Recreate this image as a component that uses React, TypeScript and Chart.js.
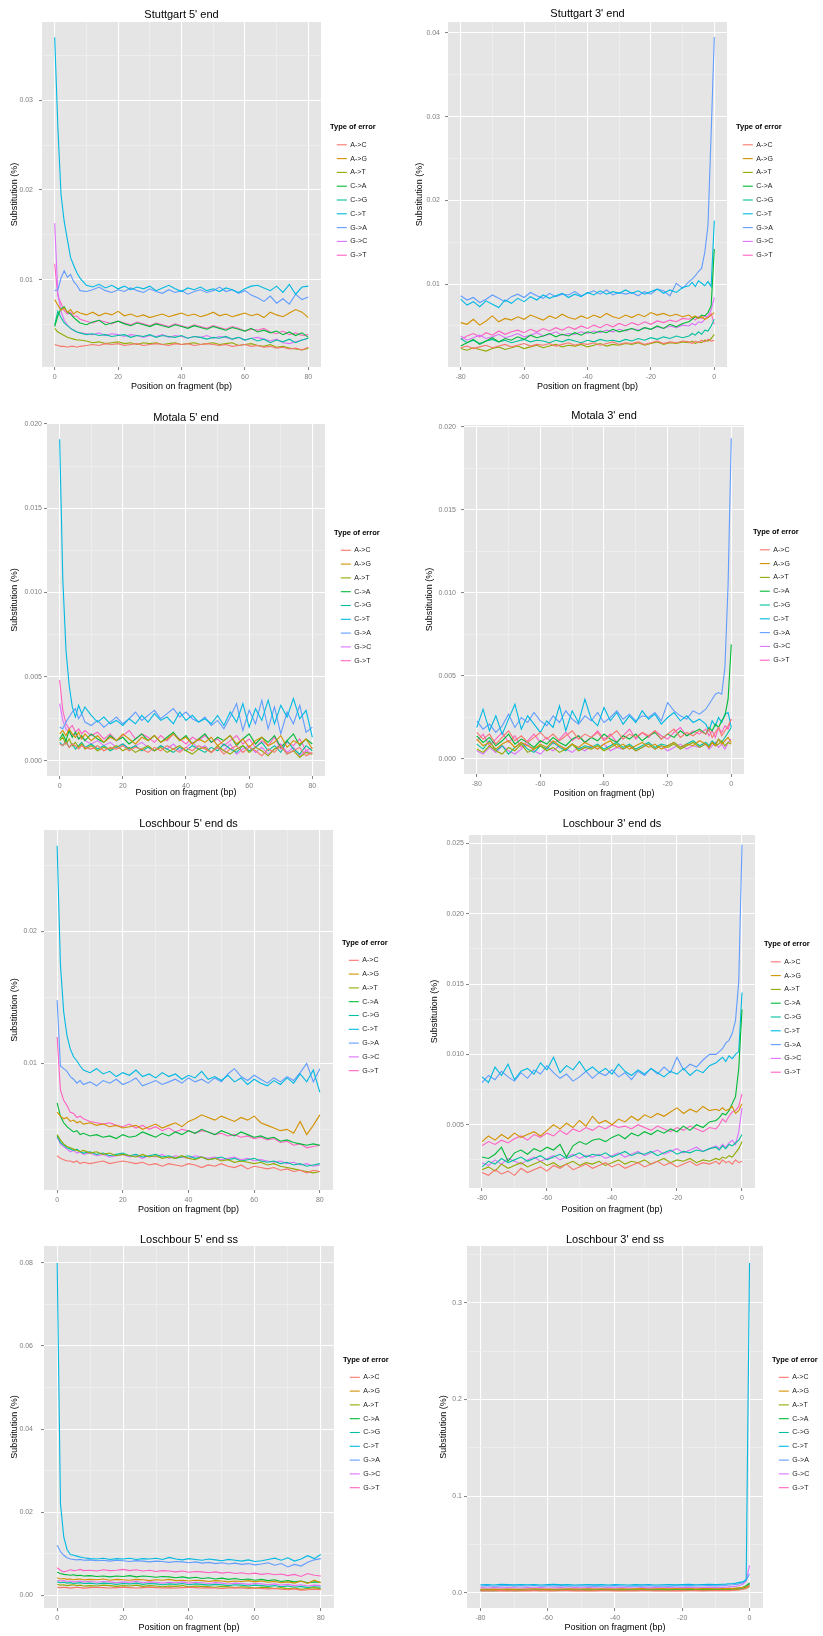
import React, { useEffect, useRef } from "react";
import { Chart, registerables } from "chart.js";

Chart.register(...registerables);

const FONT = "'Liberation Sans', Arial, Helvetica, sans-serif";

const ERROR_TYPES = ["A->C", "A->G", "A->T", "C->A", "C->G", "C->T", "G->A", "G->C", "G->T"];
const SERIES_COLORS = ["#F8766D", "#D39200", "#93AA00", "#00BA38", "#00C19F", "#00B9E3", "#619CFF", "#DB72FB", "#FF61C3"];

// positions on fragment (bp)
const POS_5P = [0, 1, 2, 3, 4, 5, 6, 7, 8, 10, 12, 14, 16, 18, 20, 22, 24, 26, 28, 30, 32, 34, 36, 38, 40, 42, 44, 46, 48, 50, 52, 54, 56, 58, 60, 62, 64, 66, 68, 70, 72, 74, 76, 78, 80];
const POS_3P = [-80, -78, -76, -74, -72, -70, -68, -66, -64, -62, -60, -58, -56, -54, -52, -50, -48, -46, -44, -42, -40, -38, -36, -34, -32, -30, -28, -26, -24, -22, -20, -18, -16, -14, -12, -10, -8, -7, -6, -5, -4, -3, -2, -1, 0];

const X_TICKS_5P = [0, 20, 40, 60, 80];
const X_LABELS_5P = ["0", "20", "40", "60", "80"];
const X_TICKS_3P = [-80, -60, -40, -20, 0];
const X_LABELS_3P = ["-80", "-60", "-40", "-20", "0"];

// substitution values, read in units of 0.001 (one row per error type, in ERROR_TYPES order)
const UNIT = 0.001;

const STUTTGART_5P = [
  [2.8,2.7,2.6,2.6,2.5,2.6,2.6,2.5,2.6, 2.7,2.8,2.7,2.9,2.8,2.9,2.7,2.8,2.9, 2.7,2.8,2.9,2.8,2.7,2.9,2.8,2.9,2.7, 2.8,2.9,2.8,2.7,2.8,2.6,2.7,2.8,2.6, 2.7,2.5,2.6,2.4,2.5,2.3,2.4,2.2,2.5],
  [7.8,7.2,6.6,6.9,6.4,6.7,6.2,6.5,6.3, 6.1,6.4,6.0,6.3,6.1,6.5,6.0,6.2,5.9, 6.1,5.8,6.0,6.2,5.9,6.1,6.3,6.0,6.2, 5.9,6.1,6.4,6.0,6.2,5.9,6.1,6.3,6.0, 6.2,5.8,6.4,6.1,5.9,6.3,6.7,6.4,5.8],
  [4.6,4.2,4.0,3.8,3.6,3.5,3.4,3.3,3.3, 3.2,3.0,3.1,2.9,3.0,3.1,2.9,3.0,2.8, 3.0,2.9,3.0,2.8,2.9,3.0,2.8,2.9,3.0, 2.8,2.9,3.0,2.8,2.9,3.0,2.7,2.8,2.9, 2.7,2.6,2.8,2.5,2.6,2.4,2.3,2.2,2.4],
  [4.8,6.0,6.8,7.0,6.4,6.2,5.8,5.5,5.2, 5.0,5.3,5.5,5.0,5.2,5.4,5.1,4.9,5.2, 5.0,4.8,5.1,4.9,4.7,5.0,4.8,4.6,4.9, 4.7,4.5,4.8,4.6,4.4,4.7,4.5,4.3,4.6, 4.2,4.4,4.1,4.3,3.9,4.2,3.8,4.1,3.6],
  [5.0,6.5,5.8,5.2,4.9,4.6,4.4,4.2,4.1, 3.9,4.0,3.8,3.9,3.7,3.8,3.9,3.6,3.8, 3.7,3.9,3.6,3.8,3.7,3.6,3.8,3.5,3.7, 3.6,3.4,3.6,3.5,3.7,3.4,3.6,3.3,3.5, 3.2,3.4,3.0,3.3,3.1,3.4,3.0,3.3,3.5],
  [37.0,27.0,19.5,16.5,14.5,12.5,11.6,10.8,10.2, 9.4,9.2,9.5,9.1,9.4,9.0,9.3,8.9,9.2, 9.0,9.3,8.8,9.1,9.4,9.0,8.7,9.1,8.9, 9.2,8.8,9.0,8.7,9.1,8.9,8.6,9.0,9.3, 9.4,9.1,8.8,9.3,8.6,9.5,8.4,9.2,9.3],
  [8.8,8.9,10.2,11.0,10.3,10.6,9.8,9.4,8.8, 8.7,8.9,9.2,8.8,8.6,8.9,8.7,9.1,8.8, 8.6,9.0,8.7,8.5,8.9,8.6,8.8,8.4,8.7, 8.9,8.6,8.8,9.2,8.7,8.9,8.5,8.8,8.3, 8.0,7.6,8.2,7.4,7.9,7.3,8.4,7.8,8.1],
  [16.3,8.5,6.5,5.5,5.0,4.6,4.4,4.2,4.1, 4.0,3.9,4.1,3.8,4.0,3.9,3.7,3.9,3.8, 3.6,3.8,3.7,3.9,3.6,3.8,3.7,3.5,3.7, 3.6,3.8,3.5,3.7,3.6,3.4,3.6,3.3,3.5, 3.6,3.4,3.2,3.4,3.0,2.9,3.1,3.3,3.5],
  [11.8,8.2,7.4,6.6,6.2,6.4,5.9,6.0,5.6, 5.4,5.2,5.5,5.3,5.1,5.4,5.2,5.0,5.3, 5.1,4.9,5.2,5.0,4.8,5.1,4.9,4.7,5.0, 4.8,4.6,4.9,4.7,4.5,4.8,4.6,4.3,4.5, 4.4,4.6,4.2,4.0,4.3,3.9,4.1,3.8,3.9],
];

const STUTTGART_3P = [
  [2.4,2.6,2.3,2.5,2.7,2.4,2.6,2.8,2.5, 2.7,2.9,2.6,2.8,2.7,2.9,2.6,2.8,3.0, 2.7,2.9,2.8,3.0,2.7,2.9,3.1,2.8,3.0, 2.9,3.1,2.8,3.0,3.2,2.9,3.1,3.0,3.2, 3.1,2.9,3.2,3.0,3.3,3.1,3.4,3.2,3.3],
  [5.4,5.2,5.8,5.1,5.6,6.2,5.5,5.9,5.7, 6.1,5.8,6.3,6.0,5.7,6.2,5.9,6.4,6.0, 5.8,6.2,5.9,6.3,6.0,6.5,6.1,5.9,6.3, 6.0,6.4,6.1,6.6,6.3,6.5,6.2,6.4,6.1, 6.3,6.0,6.2,5.9,6.1,5.8,6.0,6.3,6.6],
  [2.3,2.1,2.4,2.2,2.0,2.3,2.5,2.2,2.4, 2.6,2.3,2.5,2.7,2.4,2.6,2.8,2.5,2.7, 2.6,2.8,2.5,2.7,2.9,2.6,2.8,2.7,2.9, 2.8,3.0,2.7,2.9,3.1,2.8,3.0,2.9,3.1, 3.0,3.2,2.9,3.1,3.0,3.3,3.2,3.5,4.0],
  [2.6,3.0,3.4,2.8,3.2,3.6,3.1,3.5,3.3, 3.7,3.4,3.9,3.6,3.8,4.1,3.7,4.0,3.8, 4.2,3.9,4.3,4.1,4.4,4.2,4.6,4.3,4.5, 4.7,4.4,4.8,4.6,5.0,4.7,5.2,4.9,5.3, 5.5,5.8,6.1,5.9,6.3,6.2,6.6,7.4,14.2],
  [3.5,3.0,3.3,2.9,3.2,3.4,3.1,3.3,3.0, 3.2,3.4,3.1,3.3,3.2,3.0,3.3,3.1,3.4, 3.2,3.0,3.3,3.1,3.4,3.2,3.3,3.1,3.4, 3.2,3.5,3.3,3.6,3.4,3.7,3.5,3.8,3.6, 3.8,4.1,3.9,4.3,4.0,4.5,4.4,5.0,5.8],
  [8.2,7.5,7.9,7.3,8.0,7.6,7.2,8.1,7.7, 8.3,7.9,8.5,8.1,8.7,8.3,8.6,8.9,8.4, 8.8,8.5,9.0,8.7,9.2,8.8,9.1,8.9,9.3, 8.9,9.2,8.8,9.1,9.4,8.9,9.3,9.0,9.6, 9.8,10.2,9.7,10.4,10.1,9.8,10.3,9.7,17.6],
  [8.6,8.1,8.4,7.8,8.2,8.7,8.3,7.9,8.5, 8.8,8.4,9.0,8.6,8.3,8.9,8.5,8.8,8.7, 9.1,8.6,8.9,9.2,8.8,9.3,8.7,9.0,8.8, 9.0,8.6,9.1,8.8,9.4,9.2,8.6,10.1,9.5, 10.3,10.6,11.0,11.5,11.9,13.8,17.0,28.0,39.5],
  [3.8,3.3,3.6,3.9,3.5,3.7,4.0,3.6,3.8, 4.1,3.7,3.9,4.2,3.8,4.0,4.3,3.9,4.1, 4.0,4.3,4.1,4.4,4.2,4.5,4.3,4.6,4.4, 4.7,4.5,4.8,4.6,4.9,4.7,5.0,4.8,5.1, 5.0,5.3,5.1,5.5,5.4,5.8,6.2,6.9,8.4],
  [3.4,3.8,4.1,3.7,4.2,3.9,4.4,4.0,4.3, 4.5,4.2,4.6,4.3,4.7,4.4,4.8,4.5,4.9, 4.6,5.0,4.7,5.1,4.8,5.2,4.9,5.3,5.0, 5.4,5.1,5.5,5.2,5.6,5.4,5.7,5.5,5.9, 5.8,6.0,5.7,6.1,5.9,6.2,6.0,6.5,5.2],
];

const MOTALA_5P = [
  [1.0,0.9,1.1,0.8,1.0,0.9,0.7,0.9,0.8, 0.7,0.9,0.6,0.8,0.7,0.9,0.6,0.8,0.7, 0.5,0.8,0.6,0.9,0.7,0.5,0.8,0.6,0.9, 0.7,0.5,0.8,0.4,0.7,0.9,0.5,0.8,0.6, 0.3,0.7,0.5,0.9,0.4,0.6,0.8,0.3,0.5],
  [1.6,1.8,1.5,1.9,1.6,1.4,1.7,1.3,1.6, 1.2,1.5,1.1,1.4,1.2,1.6,1.3,1.0,1.4, 1.2,1.5,1.1,1.3,1.6,1.2,1.4,1.0,1.3, 1.1,1.4,0.9,1.2,1.5,1.0,1.3,0.8,1.2, 1.4,0.9,1.1,1.5,0.8,1.2,1.0,1.3,0.7],
  [1.2,1.4,1.0,1.3,0.9,1.1,0.8,1.0,0.7, 0.9,0.6,0.8,0.7,0.9,0.6,0.8,0.5,0.7, 0.9,0.6,0.8,0.5,0.7,0.9,0.6,0.4,0.7, 0.8,0.5,0.9,0.6,0.4,0.7,0.9,0.5,0.8, 0.6,0.3,0.7,0.9,0.4,0.6,0.2,0.5,0.4],
  [1.3,1.6,1.2,1.8,1.4,1.7,1.3,1.5,1.2, 1.6,1.3,1.1,1.5,1.2,1.4,1.0,1.3,1.6, 1.2,1.5,1.1,1.4,1.7,1.2,1.5,1.0,1.3, 1.6,1.1,1.4,1.2,1.5,0.9,1.3,1.6,1.0, 1.4,1.1,1.5,0.8,1.2,1.6,0.9,1.3,1.0],
  [1.1,0.9,1.2,0.8,1.0,0.7,0.9,1.1,0.8, 1.0,0.7,0.9,0.6,0.8,1.0,0.7,0.9,0.6, 0.8,0.6,0.9,0.7,0.5,0.8,0.6,0.9,0.7, 0.5,0.8,0.6,1.0,0.7,0.5,0.9,0.6,0.8, 1.1,0.6,0.9,0.5,1.2,0.7,0.4,0.9,0.6],
  [19.1,10.8,6.6,4.5,3.2,2.6,3.3,2.8,3.2, 2.7,2.3,2.6,2.2,2.4,2.1,2.5,2.2,2.7, 2.3,2.8,2.4,2.6,2.2,2.9,2.4,2.7,2.3, 2.5,2.2,2.7,2.1,2.9,2.3,3.4,2.0,3.1, 2.4,3.6,2.2,3.3,2.6,3.7,2.5,3.0,1.4],
  [2.0,1.9,2.3,2.6,2.9,3.1,2.5,2.8,2.3, 2.1,2.4,2.0,2.3,2.6,2.2,2.5,2.9,2.4, 2.7,3.0,2.5,2.8,3.1,2.6,2.9,2.5,2.3, 2.6,2.1,2.4,1.9,2.6,3.4,1.8,3.0,2.2, 3.6,1.9,3.2,1.6,2.9,2.2,3.3,1.7,2.0],
  [3.4,2.4,1.9,1.7,1.5,1.6,1.3,1.4,1.2, 1.0,1.2,0.9,1.1,0.8,1.0,0.7,0.9,1.1, 0.8,0.6,0.9,0.7,1.0,0.6,0.8,1.1,0.7, 0.9,0.5,0.8,0.6,1.0,0.4,0.7,0.9,0.5, 0.8,0.4,0.7,1.0,0.5,0.8,0.3,0.6,0.4],
  [4.8,3.0,2.2,1.9,2.1,1.7,1.9,1.6,1.8, 1.5,1.7,1.3,1.6,1.2,1.5,1.8,1.3,1.6, 1.4,1.1,1.5,1.2,1.6,1.3,1.0,1.4,1.2, 1.5,1.1,1.3,0.9,1.2,1.5,1.0,1.3,0.8, 1.2,0.9,1.4,0.7,1.1,0.9,1.3,0.6,0.8],
];

const MOTALA_3P = [
  [1.6,1.2,1.5,0.9,1.3,1.7,1.1,1.4,1.0, 1.3,1.6,1.2,1.5,1.1,1.4,1.7,1.2,1.5, 1.3,1.6,1.1,1.4,1.7,1.2,1.5,1.3,1.6, 1.4,1.7,1.2,1.5,1.8,1.3,1.6,1.4,1.7, 1.5,1.8,1.3,1.6,1.9,1.4,1.7,2.0,2.4],
  [1.2,0.8,1.0,0.6,0.9,1.1,0.7,1.0,0.8, 0.6,0.9,0.7,1.1,0.8,0.6,0.9,0.7,1.0, 0.8,0.6,0.9,1.1,0.7,0.9,0.6,0.8,1.0, 0.7,0.9,0.6,0.8,1.0,0.7,0.9,0.8,1.1, 0.9,0.7,1.0,0.8,1.2,0.9,1.1,1.3,1.0],
  [0.6,0.4,0.8,0.5,0.3,0.7,0.5,0.9,0.4, 0.6,0.8,0.5,0.7,0.4,0.6,0.9,0.5,0.7, 0.6,0.8,0.5,0.7,0.9,0.6,0.8,0.5,0.7, 0.9,0.6,0.8,0.7,0.9,0.6,0.8,1.0,0.7, 0.9,0.7,1.0,0.8,0.9,1.1,0.8,1.0,0.9],
  [1.4,1.0,1.3,0.8,1.1,1.5,0.9,1.2,1.0, 0.7,1.1,0.9,1.3,1.0,0.8,1.2,1.4,1.0, 1.3,1.1,1.5,1.2,1.0,1.4,1.2,1.5,1.1, 1.4,1.6,1.2,1.5,1.3,1.7,1.4,1.6,1.8, 1.5,1.9,1.7,2.1,1.9,2.3,2.6,3.6,6.9],
  [0.9,0.6,1.1,0.5,0.8,0.3,0.7,1.0,0.6, 0.4,0.8,0.6,1.0,0.7,0.5,0.9,0.6,0.8, 0.7,0.9,0.6,0.8,1.0,0.7,0.9,0.6,0.8, 1.0,0.7,0.9,0.8,1.0,0.7,0.9,1.1,0.8, 1.0,0.8,1.1,0.9,1.2,1.0,1.3,1.6,1.9],
  [1.9,3.0,1.7,2.6,1.5,2.4,3.3,1.8,2.6, 2.1,1.6,2.3,1.9,3.2,1.7,2.9,2.2,3.6, 2.4,2.0,3.1,2.3,2.8,2.1,2.6,2.2,2.9, 2.4,2.7,2.1,2.5,2.8,2.3,2.6,2.2,2.4, 2.1,1.7,2.3,2.0,2.5,2.2,2.7,2.8,1.9],
  [2.3,1.8,2.1,1.6,2.0,2.7,1.9,2.5,2.2, 2.8,2.3,2.0,2.6,2.2,2.9,2.4,2.1,2.6, 2.3,2.8,2.2,2.5,2.9,2.4,2.7,2.3,2.6, 2.5,2.8,2.3,3.4,2.9,2.6,2.4,2.9,2.7, 3.0,3.3,3.6,3.9,4.0,3.9,5.5,10.5,19.3],
  [0.5,0.3,0.7,0.4,0.8,0.5,0.3,0.6,0.9, 0.5,0.3,0.7,0.5,0.8,0.6,0.4,0.7,0.5, 0.8,0.6,0.9,0.5,0.7,0.6,0.8,0.5,0.7, 0.9,0.6,0.8,0.5,0.7,0.9,0.6,0.8,0.7, 0.9,0.6,0.8,1.0,0.7,0.9,0.6,1.0,1.2],
  [1.1,1.5,0.8,1.2,1.6,1.0,1.4,0.7,1.1, 1.5,1.0,1.3,0.9,1.2,1.6,1.1,1.4,1.0, 1.3,1.7,1.2,1.5,1.0,1.4,1.8,1.2,1.6, 1.3,1.7,1.4,1.2,1.6,1.9,1.4,1.7,1.5, 1.8,1.4,1.7,1.3,1.9,1.6,2.0,1.8,2.4],
];

const LOSCHBOUR_5P_DS = [
  [3.0,2.8,2.7,2.6,2.6,2.5,2.6,2.4,2.5, 2.4,2.5,2.6,2.4,2.5,2.6,2.5,2.4,2.5, 2.3,2.4,2.2,2.4,2.3,2.2,2.4,2.3,2.1, 2.3,2.2,2.4,2.2,2.1,2.3,2.0,2.2,2.1, 2.0,2.1,1.9,2.0,1.8,1.9,1.7,1.9,1.8],
  [6.3,6.0,5.8,5.9,5.6,5.7,5.5,5.6,5.4, 5.5,5.3,5.4,5.2,5.3,5.1,5.2,5.3,5.0, 5.2,5.4,5.1,5.3,5.5,5.2,5.6,5.8,6.1, 5.9,5.7,6.0,5.8,5.6,5.9,5.7,6.0,5.5, 5.3,5.1,4.9,5.0,4.7,5.6,4.6,5.3,6.1],
  [4.6,4.2,3.9,3.7,3.6,3.5,3.4,3.3,3.4, 3.2,3.3,3.1,3.2,3.0,3.1,3.0,2.9,3.1, 2.9,3.0,2.8,2.9,2.8,3.0,2.8,2.7,2.9, 2.7,2.8,2.6,2.7,2.5,2.6,2.5,2.4,2.5, 2.3,2.4,2.2,2.1,2.0,1.9,1.8,1.7,1.8],
  [7.0,6.0,5.5,5.2,5.0,4.8,4.9,4.6,4.7, 4.5,4.6,4.4,4.5,4.3,4.6,4.4,4.5,4.8, 4.6,4.4,4.7,4.5,4.8,4.6,4.9,4.7,5.0, 4.8,4.6,4.9,4.7,4.5,4.8,4.6,4.4,4.5, 4.3,4.4,4.1,4.2,4.0,3.9,3.8,3.9,3.8],
  [4.5,4.0,3.8,3.6,3.5,3.4,3.5,3.3,3.2, 3.3,3.1,3.2,3.0,3.1,3.2,3.0,3.1,2.9, 3.0,3.1,2.9,3.0,2.8,2.9,3.0,2.8,2.9, 2.7,2.8,2.9,2.7,2.8,2.6,2.7,2.8,2.6, 2.5,2.6,2.4,2.5,2.3,2.4,2.2,2.3,2.4],
  [26.5,17.5,13.9,12.1,11.1,10.5,10.2,9.8,9.5, 9.3,9.6,9.2,9.4,9.0,9.3,9.1,9.5,9.0, 9.2,8.9,9.3,9.0,9.2,8.8,9.1,8.9,9.4, 8.8,9.0,8.7,9.1,8.6,8.9,8.4,8.8,8.5, 8.3,8.7,8.4,8.9,8.5,9.2,8.6,9.5,7.8],
  [14.8,9.8,9.6,9.4,9.0,8.8,8.5,8.7,8.4, 8.6,8.3,8.7,8.5,8.8,8.4,8.6,8.9,8.3, 8.5,8.7,8.4,8.6,8.8,8.5,8.9,8.6,8.8, 8.5,8.9,8.6,9.2,9.6,9.0,8.7,9.1,8.8, 8.5,8.9,8.6,9.0,8.7,9.3,10.0,8.6,9.6],
  [4.4,3.9,3.7,3.5,3.3,3.4,3.2,3.3,3.1, 3.2,3.0,3.1,2.9,3.0,3.1,2.9,3.0,2.8, 3.0,2.9,3.1,2.8,3.0,2.9,2.8,3.0,2.9, 2.8,2.9,2.7,2.8,2.9,2.7,2.8,2.6,2.7, 2.6,2.5,2.6,2.4,2.5,2.3,2.4,2.2,2.3],
  [12.0,8.0,7.2,6.8,6.3,6.2,5.9,6.0,5.8, 5.6,5.5,5.4,5.5,5.3,5.2,5.4,5.1,5.3, 5.0,5.2,4.9,5.1,4.8,5.0,4.9,4.7,4.9, 4.8,4.6,4.7,4.5,4.6,4.4,4.5,4.3,4.4, 4.2,4.3,4.0,4.1,3.8,3.9,3.6,3.7,3.8],
];

const LOSCHBOUR_3P_DS = [
  [1.6,1.4,1.8,1.5,1.7,1.4,1.9,1.6,1.8, 2.0,1.7,2.1,1.9,2.2,1.8,2.0,2.2,1.9, 2.1,2.3,2.0,2.2,1.9,2.1,2.3,2.0,2.2, 2.4,2.1,2.3,2.0,2.2,2.4,2.1,2.3,2.2, 2.4,2.2,2.5,2.3,2.4,2.2,2.5,2.3,2.4],
  [3.8,4.2,3.9,4.3,4.0,4.4,4.1,4.3,4.5, 4.2,4.6,5.0,4.7,5.1,4.8,5.3,4.9,5.6, 5.1,5.3,5.0,5.4,5.2,5.6,5.3,5.7,5.5, 5.8,5.6,5.9,6.2,5.8,6.1,5.9,6.3,6.0, 6.1,6.0,6.2,6.0,6.1,6.3,5.8,6.0,6.5],
  [1.8,2.0,1.7,2.2,1.9,2.1,2.3,2.0,2.2, 2.4,2.1,2.3,2.0,2.2,2.4,2.1,2.3,2.2, 2.4,2.1,2.3,2.5,2.2,2.4,2.3,2.5,2.2, 2.4,2.6,2.3,2.5,2.4,2.6,2.3,2.5,2.4, 2.6,2.5,2.7,2.6,2.8,2.7,3.0,3.3,3.8],
  [2.7,2.6,2.9,3.4,2.4,3.0,3.2,2.9,3.3, 3.1,3.4,3.2,3.6,2.7,3.5,3.8,3.6,3.9, 4.0,3.8,4.1,4.3,4.0,4.4,4.2,4.5,4.3, 4.6,4.4,4.7,4.5,4.9,4.6,5.0,4.8,5.2, 5.3,5.5,5.8,5.7,6.0,6.5,7.0,9.0,13.2],
  [2.0,2.4,2.2,2.6,2.3,2.5,2.7,2.4,2.6, 2.8,2.5,2.7,2.9,2.6,2.8,3.0,2.7,2.9, 2.8,3.0,2.7,2.9,3.1,2.8,3.0,2.9,3.1, 2.8,3.0,3.2,2.9,3.1,3.0,3.2,3.1,3.3, 3.4,3.2,3.5,3.3,3.6,3.5,3.7,3.9,4.3],
  [8.4,8.0,9.1,8.5,9.3,8.2,8.8,9.0,8.6, 9.4,8.9,9.8,8.7,9.2,8.9,9.5,8.8,9.1, 8.7,9.0,8.6,9.3,8.8,8.5,8.9,8.6,9.0, 8.7,8.4,8.8,8.6,9.0,8.5,8.9,8.7,9.2, 9.4,9.6,9.8,9.5,9.9,9.7,10.0,10.2,14.4],
  [8.0,8.5,8.2,8.8,8.4,8.1,8.7,8.3,8.9, 8.6,9.2,8.7,8.3,8.6,8.1,8.4,8.8,8.3, 8.7,8.5,8.9,8.4,8.7,8.2,8.8,8.5,9.0, 8.6,9.1,8.7,9.8,8.9,9.3,9.1,9.6,10.0, 10.0,10.2,10.4,10.8,11.0,11.5,12.4,15.2,24.9],
  [2.3,2.1,2.5,2.2,2.6,2.4,2.2,2.5,2.7, 2.4,2.6,2.8,2.5,2.7,2.9,2.6,2.8,2.7, 2.9,2.6,2.8,3.0,2.7,2.9,3.1,2.8,3.0, 3.2,2.9,3.1,3.3,3.0,3.2,3.4,3.1,3.3, 3.5,3.3,3.6,3.4,3.7,3.9,3.6,4.5,6.2],
  [3.5,3.8,3.6,3.9,3.7,4.0,4.2,3.9,4.3, 4.1,4.4,4.2,4.6,4.3,4.7,4.5,4.8,4.6, 4.9,4.7,5.0,4.8,4.9,4.7,5.0,4.8,4.6, 4.9,4.7,4.5,4.8,4.6,4.9,4.7,4.5,4.8, 4.7,5.0,5.4,5.2,5.6,5.9,6.0,6.3,7.2],
];

const LOSCHBOUR_5P_SS = [
  [1.9,1.8,1.9,1.8,1.7,1.8,1.9,1.8,1.7, 1.8,1.9,1.8,1.7,1.8,1.9,1.8,1.7,1.8, 1.9,1.8,1.7,1.8,1.7,1.8,1.9,1.8,1.7, 1.8,1.7,1.6,1.7,1.8,1.7,1.6,1.7,1.6, 1.5,1.6,1.4,1.3,1.5,1.2,1.3,1.4,1.3],
  [4.2,3.9,4.0,3.8,3.9,3.7,3.8,3.9,3.7, 3.8,3.7,3.9,3.6,3.8,3.7,3.6,3.8,3.7, 3.5,3.7,3.6,3.8,3.5,3.6,3.4,3.6,3.5, 3.3,3.5,3.4,3.2,3.4,3.3,3.5,3.2,3.4, 3.1,3.3,3.0,3.2,2.9,3.4,2.8,3.6,3.0],
  [2.6,2.4,2.5,2.3,2.4,2.5,2.3,2.4,2.2, 2.3,2.2,2.4,2.3,2.1,2.3,2.2,2.4,2.1, 2.3,2.2,2.0,2.2,2.1,2.3,2.0,2.2,2.1, 2.0,1.9,2.1,2.0,1.8,2.0,1.9,1.7,1.9, 1.8,1.6,1.8,1.5,1.7,1.4,1.6,1.8,1.5],
  [5.5,5.2,5.0,4.9,4.8,4.9,4.7,4.8,4.6, 4.7,4.5,4.6,4.4,4.6,4.5,4.7,4.4,4.6, 4.5,4.3,4.5,4.4,4.2,4.4,4.1,4.3,4.0, 4.2,3.9,4.1,3.8,4.0,3.7,3.9,3.6,3.8, 3.5,3.7,3.3,3.5,3.2,3.4,3.0,3.2,3.1],
  [3.2,3.0,3.1,2.9,3.0,2.8,2.9,3.0,2.8, 2.9,2.7,2.9,2.8,2.6,2.8,2.7,2.9,2.6, 2.8,2.7,2.5,2.7,2.6,2.8,2.5,2.7,2.6, 2.4,2.6,2.5,2.3,2.5,2.4,2.2,2.4,2.3, 2.1,2.3,2.0,2.2,1.9,2.1,1.8,2.0,1.9],
  [80.0,22.0,14.0,11.0,9.8,9.6,9.4,9.2,9.0, 8.8,8.7,8.9,8.6,8.8,8.7,8.9,8.6,8.8, 8.7,8.9,8.6,9.1,8.7,8.5,8.8,8.6,8.4, 8.7,8.5,8.3,8.6,8.4,8.2,8.5,8.1,8.3, 8.6,8.9,8.4,9.0,8.2,8.7,9.5,8.8,9.8],
  [12.0,10.5,9.6,9.0,8.7,8.6,8.5,8.6,8.4, 8.5,8.3,8.4,8.2,8.4,8.3,8.1,8.3,8.2, 8.0,8.2,8.1,7.9,8.1,8.0,7.8,8.0,7.7, 7.9,7.6,7.8,7.5,7.7,7.4,7.6,7.3,7.5, 7.8,7.2,7.6,6.8,7.4,7.0,7.9,8.5,8.8],
  [3.6,3.4,3.5,3.3,3.4,3.2,3.3,3.4,3.2, 3.3,3.1,3.3,3.2,3.0,3.2,3.1,3.3,3.0, 3.2,3.1,2.9,3.1,3.0,3.2,2.9,3.1,3.0, 2.8,3.0,2.9,2.7,2.9,2.8,2.6,2.8,2.7, 2.5,2.7,2.4,2.6,2.3,2.5,2.2,2.4,2.3],
  [6.6,6.0,5.6,5.8,6.1,5.9,6.0,6.2,5.9, 6.0,5.8,6.1,5.9,6.0,6.2,5.9,6.1,5.8, 6.0,5.7,5.9,5.8,5.6,5.8,5.5,5.7,5.6, 5.4,5.6,5.3,5.5,5.2,5.4,5.1,5.3,5.0, 5.2,4.9,5.1,4.7,5.0,4.5,5.2,4.8,4.6],
];

const LOSCHBOUR_3P_SS = [
  [2.2,2.3,2.1,2.4,2.2,2.3,2.1,2.2,2.4, 2.3,2.2,2.1,2.3,2.4,2.2,2.3,2.1,2.2, 2.4,2.3,2.2,2.1,2.3,2.2,2.4,2.3,2.2, 2.3,2.1,2.4,2.2,2.3,2.4,2.2,2.3,2.5, 2.4,2.6,2.5,2.7,2.9,3.2,3.8,4.6,7.5],
  [4.0,3.8,4.1,3.9,4.2,4.0,3.8,4.1,4.3, 4.0,4.2,3.9,4.1,4.3,4.0,4.2,4.4,4.1, 4.3,4.0,4.2,4.4,4.1,4.3,4.5,4.2,4.4, 4.6,4.3,4.5,4.4,4.6,4.3,4.5,4.7,4.4, 4.6,4.5,4.8,4.7,5.0,5.3,5.8,6.5,8.0],
  [2.8,2.6,2.9,2.7,2.5,2.8,2.6,2.9,2.7, 2.5,2.8,2.6,2.9,2.7,2.8,2.6,2.9,2.7, 2.8,2.6,2.9,2.7,2.8,3.0,2.7,2.9,2.8, 3.0,2.8,2.9,3.1,2.8,3.0,2.9,3.1,3.0, 3.1,3.2,3.0,3.3,3.5,3.8,4.2,5.0,6.5],
  [2.5,2.7,2.4,2.6,2.8,2.5,2.7,2.6,2.8, 2.6,2.9,2.7,2.8,3.0,2.7,2.9,3.1,2.8, 3.0,3.2,2.9,3.1,3.3,3.0,3.2,3.4,3.1, 3.3,3.5,3.2,3.4,3.6,3.3,3.5,3.7,3.6, 3.8,4.0,4.2,4.5,4.8,5.2,6.0,7.5,10.5],
  [3.0,3.2,2.9,3.1,3.3,3.0,3.2,2.9,3.1, 3.3,3.0,3.2,3.1,2.9,3.2,3.0,3.3,3.1, 3.2,3.0,3.3,3.1,3.4,3.2,3.0,3.3,3.1, 3.4,3.2,3.5,3.3,3.1,3.4,3.2,3.5,3.3, 3.5,3.4,3.6,3.8,4.0,4.4,5.0,6.2,9.0],
  [8.5,8.8,8.3,8.9,8.6,8.4,8.8,8.5,8.7, 8.3,8.6,8.9,8.4,8.7,8.2,8.5,8.8,8.4, 8.6,8.3,8.7,8.5,8.2,8.6,8.4,8.8,8.3, 8.5,8.7,8.4,8.6,8.9,8.5,8.8,9.0,8.7, 9.0,9.2,9.5,9.8,10.2,11.0,11.5,14.0,341.0],
  [7.2,7.6,7.0,7.4,7.8,7.1,7.5,7.3,7.7, 7.0,7.4,7.2,7.6,6.9,7.3,7.5,7.1,7.4, 7.0,7.3,7.6,7.2,6.9,7.3,7.1,7.5,7.0, 7.3,7.1,7.4,7.2,7.6,7.3,7.5,7.8,7.4, 7.7,8.0,8.2,8.5,8.9,9.5,10.5,13.0,20.0],
  [5.5,5.2,5.6,5.3,5.7,5.4,5.2,5.6,5.3, 5.5,5.1,5.4,5.6,5.2,5.5,5.3,5.7,5.4, 5.2,5.5,5.3,5.6,5.4,5.1,5.5,5.3,5.6, 5.4,5.7,5.3,5.5,5.8,5.4,5.6,5.9,5.5, 5.8,6.0,6.3,6.6,7.0,7.8,9.0,12.5,28.5],
  [3.5,3.7,3.4,3.6,3.8,3.5,3.7,3.4,3.6, 3.8,3.5,3.7,3.9,3.6,3.8,3.5,3.7,3.9, 3.6,3.8,3.5,3.7,3.9,3.6,3.8,4.0,3.7, 3.9,3.6,3.8,4.0,3.7,3.9,4.1,3.8,4.0, 4.1,4.3,4.2,4.5,4.7,5.0,5.6,6.8,10.0],
];

// y-axis tick values and labels per panel
const Y_TICKS_STUTTGART_5P = [0.01, 0.02, 0.03];
const Y_LABELS_STUTTGART_5P = ["0.01", "0.02", "0.03"];
const Y_TICKS_STUTTGART_3P = [0.01, 0.02, 0.03, 0.04];
const Y_LABELS_STUTTGART_3P = ["0.01", "0.02", "0.03", "0.04"];
const Y_TICKS_MOTALA = [0, 0.005, 0.01, 0.015, 0.02];
const Y_LABELS_MOTALA = ["0.000", "0.005", "0.010", "0.015", "0.020"];
const Y_TICKS_LOSCHBOUR_5P_DS = [0.01, 0.02];
const Y_LABELS_LOSCHBOUR_5P_DS = ["0.01", "0.02"];
const Y_TICKS_LOSCHBOUR_3P_DS = [0.005, 0.01, 0.015, 0.02, 0.025];
const Y_LABELS_LOSCHBOUR_3P_DS = ["0.005", "0.010", "0.015", "0.020", "0.025"];
const Y_TICKS_LOSCHBOUR_5P_SS = [0, 0.02, 0.04, 0.06, 0.08];
const Y_LABELS_LOSCHBOUR_5P_SS = ["0.00", "0.02", "0.04", "0.06", "0.08"];
const Y_TICKS_LOSCHBOUR_3P_SS = [0, 0.1, 0.2, 0.3];
const Y_LABELS_LOSCHBOUR_3P_SS = ["0.0", "0.1", "0.2", "0.3"];

const PANELS = [
  { title: "Stuttgart 5' end", pos: POS_5P, series: STUTTGART_5P, xTicks: X_TICKS_5P, xLabels: X_LABELS_5P, xMin: -4, xMax: 84,
    yTicks: Y_TICKS_STUTTGART_5P, yLabels: Y_LABELS_STUTTGART_5P, yMin: 0.0003, yMax: 0.0387,
    box: { x0: 0, y0: 0, w: 412, h: 405, L: 42, R: 321, T: 22, B: 367, titleY: 15, yTitleX: 15, yPad: 6, xTitleOff: 20 } },
  { title: "Stuttgart 3' end", pos: POS_3P, series: STUTTGART_3P, xTicks: X_TICKS_3P, xLabels: X_LABELS_3P, xMin: -84, xMax: 4,
    yTicks: Y_TICKS_STUTTGART_3P, yLabels: Y_LABELS_STUTTGART_3P, yMin: 0.0001, yMax: 0.0413,
    box: { x0: 412, y0: 0, w: 411, h: 405, L: 448, R: 727, T: 22, B: 367, titleY: 14, yTitleX: 420, yPad: 5, xTitleOff: 20 } },
  { title: "Motala 5' end", pos: POS_5P, series: MOTALA_5P, xTicks: X_TICKS_5P, xLabels: X_LABELS_5P, xMin: -4, xMax: 84,
    yTicks: Y_TICKS_MOTALA, yLabels: Y_LABELS_MOTALA, yMin: -0.0009, yMax: 0.02,
    box: { x0: 0, y0: 405, w: 412, h: 410, L: 47, R: 325, T: 424, B: 776, titleY: 418, yTitleX: 15, yPad: 2, xTitleOff: 17 } },
  { title: "Motala 3' end", pos: POS_3P, series: MOTALA_3P, xTicks: X_TICKS_3P, xLabels: X_LABELS_3P, xMin: -84, xMax: 4,
    yTicks: Y_TICKS_MOTALA, yLabels: Y_LABELS_MOTALA, yMin: -0.0009, yMax: 0.0201,
    box: { x0: 412, y0: 405, w: 411, h: 410, L: 464, R: 744, T: 425, B: 774, titleY: 416, yTitleX: 430, yPad: 5, xTitleOff: 20 } },
  { title: "Loschbour 5' end ds", pos: POS_5P, series: LOSCHBOUR_5P_DS, xTicks: X_TICKS_5P, xLabels: X_LABELS_5P, xMin: -4, xMax: 84,
    yTicks: Y_TICKS_LOSCHBOUR_5P_DS, yLabels: Y_LABELS_LOSCHBOUR_5P_DS, yMin: 0.0004, yMax: 0.0277,
    box: { x0: 0, y0: 815, w: 412, h: 410, L: 44, R: 333, T: 830, B: 1190, titleY: 824, yTitleX: 15, yPad: 4, xTitleOff: 20 } },
  { title: "Loschbour 3' end ds", pos: POS_3P, series: LOSCHBOUR_3P_DS, xTicks: X_TICKS_3P, xLabels: X_LABELS_3P, xMin: -84, xMax: 4,
    yTicks: Y_TICKS_LOSCHBOUR_3P_DS, yLabels: Y_LABELS_LOSCHBOUR_3P_DS, yMin: 0.0005, yMax: 0.0256,
    box: { x0: 412, y0: 815, w: 411, h: 410, L: 469, R: 755, T: 835, B: 1188, titleY: 824, yTitleX: 435, yPad: 2, xTitleOff: 22 } },
  { title: "Loschbour 5' end ss", pos: POS_5P, series: LOSCHBOUR_5P_SS, xTicks: X_TICKS_5P, xLabels: X_LABELS_5P, xMin: -4, xMax: 84,
    yTicks: Y_TICKS_LOSCHBOUR_5P_SS, yLabels: Y_LABELS_LOSCHBOUR_5P_SS, yMin: -0.0031, yMax: 0.0841,
    box: { x0: 0, y0: 1225, w: 412, h: 411, L: 44, R: 334, T: 1246, B: 1608, titleY: 1240, yTitleX: 15, yPad: 8, xTitleOff: 20 } },
  { title: "Loschbour 3' end ss", pos: POS_3P, series: LOSCHBOUR_3P_SS, xTicks: X_TICKS_3P, xLabels: X_LABELS_3P, xMin: -84, xMax: 4,
    yTicks: Y_TICKS_LOSCHBOUR_3P_SS, yLabels: Y_LABELS_LOSCHBOUR_3P_SS, yMin: -0.0155, yMax: 0.3585,
    box: { x0: 412, y0: 1225, w: 411, h: 411, L: 467, R: 763, T: 1246, B: 1608, titleY: 1240, yTitleX: 444, yPad: 2, xTitleOff: 20 } },
];

const SPACER_W = 9;
const LEGEND_W = 58;
const X_AXIS_H = 28;

function withMinor(majors: number[], min: number, max: number) {
  const step = majors[1] - majors[0];
  const out: any[] = majors.filter((v) => v >= min - 1e-12 && v <= max + 1e-12).map((v) => ({ value: v, minor: false }));
  for (let k = 0; ; k++) {
    const v = majors[0] - step / 2 + k * step;
    if (v > max + 1e-12) break;
    if (v >= min) out.push({ value: v, minor: true });
  }
  return out.sort((a, b) => a.value - b.value);
}

function labelFor(majors: number[], labels: string[], v: number) {
  const i = majors.findIndex((m) => Math.abs(m - v) < 1e-9);
  return i >= 0 ? labels[i] : "";
}

const panelBackground = {
  id: "panelBackground",
  beforeDraw(chart: any) {
    const { ctx, chartArea: a } = chart;
    if (!a) return;
    ctx.save();
    ctx.fillStyle = "#E5E5E5";
    ctx.fillRect(a.left, a.top, a.right - a.left, a.bottom - a.top);
    ctx.restore();
  },
};

// keep the legend box at a fixed width so the plot panel lands where it should
function fixedLegendWidth(width: number) {
  return {
    id: "fixedLegendWidth",
    beforeUpdate(chart: any) {
      const lg = chart.legend;
      if (lg && !lg.__fixedWidth) {
        const orig = lg.fit;
        lg.fit = function () {
          orig.call(this);
          this.width = width;
        };
        lg.__fixedWidth = true;
      }
    },
  };
}

const gridOpts = {
  color: (c: any) => (c.tick && c.tick.minor ? "#F2F2F2" : "#FFFFFF"),
  lineWidth: (c: any) => (c.tick && c.tick.minor ? 0.6 : 1.1),
  tickColor: (c: any) => (c.tick && c.tick.minor ? "rgba(0,0,0,0)" : "#7F7F7F"),
  tickLength: 3,
  tickWidth: 1,
  drawTicks: true,
  drawOnChartArea: true,
};

function Panel({ cfg }: { cfg: any }) {
  const ref = useRef<HTMLCanvasElement | null>(null);
  const b = cfg.box;
  useEffect(() => {
    if (!ref.current) return;
    const titleH = b.T - b.y0;
    const titleLH = 11;
    let tPadTop = b.titleY - b.y0 - titleLH / 2;
    let tPadBottom = titleH - tPadTop - titleLH;
    if (tPadBottom < 0) { tPadTop = titleH - titleLH; tPadBottom = 0; }
    const yTitlePad = Math.max(0, b.yTitleX - b.x0 - 5.4);
    const xTitlePadBottom = Math.max(0, X_AXIS_H - b.xTitleOff - 5.4);
    const rightSpace = b.w - (b.R - b.x0) - SPACER_W;
    const legendW = Math.min(LEGEND_W, rightSpace);
    const padRight = Math.max(0, rightSpace - legendW);
    const padBottom = Math.max(0, b.h - (b.B - b.y0) - X_AXIS_H);

    const datasets = ERROR_TYPES.map((name, i) => ({
      label: name,
      data: cfg.pos
        .map((x: number, j: number) => ({ x, y: cfg.series[i][j] * UNIT }))
        .filter((p: any) => Number.isFinite(p.y)),
      borderColor: SERIES_COLORS[i],
      backgroundColor: SERIES_COLORS[i],
      borderWidth: 1.1,
      pointRadius: 0,
      pointHoverRadius: 0,
      tension: 0,
      fill: false,
      xAxisID: "x",
      yAxisID: "y",
    }));

    const chart = new Chart(ref.current, {
      type: "line",
      data: { datasets },
      plugins: [panelBackground, fixedLegendWidth(legendW)],
      options: {
        animation: false,
        responsive: false,
        devicePixelRatio: 1,
        events: [],
        font: { family: FONT },
        layout: { padding: { left: 0, top: 0, right: padRight, bottom: padBottom } },
        plugins: {
          tooltip: { enabled: false },
          title: {
            display: true,
            text: cfg.title,
            color: "#000000",
            fullSize: false,
            font: { family: FONT, size: 11, weight: "normal", lineHeight: 1 },
            padding: { top: tPadTop, bottom: tPadBottom },
          },
          legend: {
            display: true,
            position: "right",
            align: "center",
            fullSize: false,
            onClick: () => {},
            title: {
              display: true,
              text: "Type of error",
              color: "#000000",
              position: "start",
              font: { family: FONT, size: 7.5, weight: "bold", lineHeight: 1.2 },
              padding: { top: 0, bottom: 2 },
            },
            labels: {
              color: "#1A1A1A",
              font: { family: FONT, size: 7 },
              usePointStyle: true,
              pointStyle: "line",
              pointStyleWidth: 10,
              padding: 6.8,
            },
          },
        },
        scales: {
          x: {
            type: "linear",
            position: "bottom",
            min: cfg.xMin,
            max: cfg.xMax,
            bounds: "data",
            afterBuildTicks: (s: any) => { s.ticks = withMinor(cfg.xTicks, cfg.xMin, cfg.xMax); },
            afterFit: (s: any) => { s.height = X_AXIS_H; },
            border: { display: false },
            grid: gridOpts,
            ticks: {
              autoSkip: false,
              maxRotation: 0,
              minRotation: 0,
              padding: 3,
              color: "#808080",
              font: { family: FONT, size: 7 },
              callback: (v: any, i: number, ticks: any[]) =>
                ticks[i] && ticks[i].minor ? "" : labelFor(cfg.xTicks, cfg.xLabels, Number(v)),
            },
            title: {
              display: true,
              text: "Position on fragment (bp)",
              color: "#000000",
              font: { family: FONT, size: 9, lineHeight: 1.2 },
              padding: { top: 0, bottom: xTitlePadBottom },
            },
          },
          y: {
            type: "linear",
            position: "left",
            min: cfg.yMin,
            max: cfg.yMax,
            bounds: "data",
            afterBuildTicks: (s: any) => { s.ticks = withMinor(cfg.yTicks, cfg.yMin, cfg.yMax); },
            afterFit: (s: any) => { s.width = b.L - b.x0; },
            border: { display: false },
            grid: gridOpts,
            ticks: {
              autoSkip: false,
              padding: b.yPad,
              color: "#808080",
              font: { family: FONT, size: 7 },
              callback: (v: any, i: number, ticks: any[]) =>
                ticks[i] && ticks[i].minor ? "" : labelFor(cfg.yTicks, cfg.yLabels, Number(v)),
            },
            title: {
              display: true,
              text: "Substitution (%)",
              color: "#000000",
              font: { family: FONT, size: 9, lineHeight: 1.2 },
              padding: { top: yTitlePad, bottom: 0 },
            },
          },
          spacer: {
            type: "linear",
            position: "right",
            display: true,
            afterFit: (s: any) => { s.width = SPACER_W; },
            border: { display: false },
            grid: { display: false, drawTicks: false },
            ticks: { display: false },
          },
        },
      } as any,
    });
    return () => chart.destroy();
  }, []);
  return (
    <canvas
      ref={ref}
      width={b.w}
      height={b.h}
      style={{ position: "absolute", left: b.x0, top: b.y0, width: b.w, height: b.h }}
    />
  );
}

export default function App() {
  return (
    <div style={{ position: "absolute", left: 0, top: 0, width: 823, height: 1636, background: "#FFFFFF", overflow: "hidden" }}>
      {PANELS.map((p, i) => (
        <Panel key={i} cfg={p} />
      ))}
    </div>
  );
}
